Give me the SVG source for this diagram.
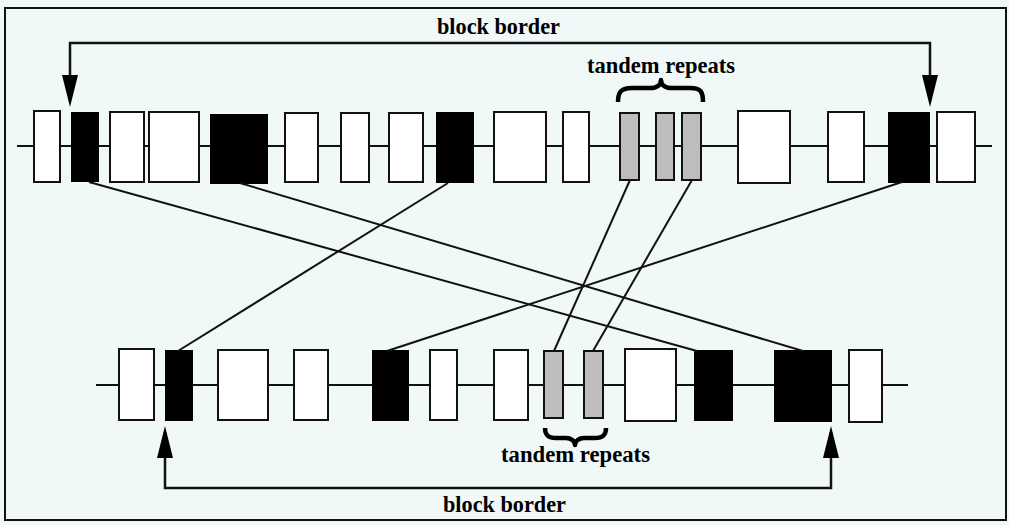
<svg xmlns="http://www.w3.org/2000/svg" width="1009" height="525" viewBox="0 0 1009 525">
  <defs>
    <marker id="head" viewBox="0 0 32 16" refX="26" refY="8" markerWidth="32" markerHeight="16" markerUnits="userSpaceOnUse" orient="auto-start-reverse">
      <path d="M0,0 L32,8 L0,16 Z" fill="#000"/>
    </marker>
    <style>
      .frame { fill: none; stroke: #111; stroke-width: 2; }
      .axis { stroke: #111; stroke-width: 2; fill: none; }
      .ex { fill: #fff; stroke: #111; stroke-width: 2; }
      .blk { fill: #000; stroke: #000; stroke-width: 2; }
      .rep { fill: #bdbdbd; stroke: #111; stroke-width: 2; }
      .link { stroke: #111; stroke-width: 2; fill: none; }
      .border { stroke: #111; stroke-width: 2.5; fill: none; marker-start: url(#head); marker-end: url(#head); }
      .brace { stroke: #000; stroke-width: 4.5; fill: none; stroke-linejoin: round; }
      .lbl { font-family: "Liberation Serif", "DejaVu Serif", serif; font-weight: bold; font-size: 23px; fill: #000; }
    </style>
  </defs>

  <rect x="0" y="0" width="1009" height="525" fill="#f1f8f8"/>
  <rect class="frame" x="5" y="8" width="1001" height="512"/>

  <!-- upper sequence -->
  <g id="seqTop">
    <line class="axis" x1="17" y1="146" x2="992" y2="146"/>
    <rect id="t1" class="ex" x="34" y="111" width="26" height="71"/>
    <rect id="t2" class="blk" x="72" y="113" width="26" height="68"/>
    <rect id="t3" class="ex" x="110" y="112" width="34" height="70"/>
    <rect id="t4" class="ex" x="149" y="112" width="50" height="70"/>
    <rect id="t5" class="blk" x="211" y="115" width="56" height="68"/>
    <rect id="t6" class="ex" x="285" y="113" width="33" height="69"/>
    <rect id="t7" class="ex" x="341" y="113" width="28" height="69"/>
    <rect id="t8" class="ex" x="389" y="113" width="34" height="69"/>
    <rect id="t9" class="blk" x="437" y="113" width="36" height="69"/>
    <rect id="t10" class="ex" x="494" y="112" width="52" height="70"/>
    <rect id="t11" class="ex" x="563" y="112" width="26" height="70"/>
    <rect id="t12" class="rep" x="620" y="113" width="19" height="67"/>
    <rect id="t13" class="rep" x="656" y="113" width="18" height="67"/>
    <rect id="t14" class="rep" x="682" y="113" width="19" height="67"/>
    <rect id="t15" class="ex" x="738" y="111" width="52" height="72"/>
    <rect id="t16" class="ex" x="828" y="112" width="36" height="70"/>
    <rect id="t17" class="blk" x="889" y="113" width="40" height="69"/>
    <rect id="t18" class="ex" x="937" y="112" width="38" height="70"/>
  </g>

  <!-- lower sequence -->
  <g id="seqBottom">
    <line class="axis" x1="96" y1="385" x2="908" y2="385"/>
    <rect id="b1" class="ex" x="119" y="349" width="35" height="71"/>
    <rect id="b2" class="blk" x="166" y="351" width="26" height="69"/>
    <rect id="b3" class="ex" x="218" y="350" width="50" height="70"/>
    <rect id="b4" class="ex" x="294" y="350" width="34" height="70"/>
    <rect id="b5" class="blk" x="373" y="351" width="35" height="69"/>
    <rect id="b6" class="ex" x="430" y="350" width="27" height="70"/>
    <rect id="b7" class="ex" x="494" y="350" width="34" height="70"/>
    <rect id="b8" class="rep" x="544" y="351" width="19" height="67"/>
    <rect id="b9" class="rep" x="584" y="351" width="19" height="67"/>
    <rect id="b10" class="ex" x="625" y="349" width="51" height="72"/>
    <rect id="b11" class="blk" x="695" y="351" width="37" height="69"/>
    <rect id="b12" class="blk" x="775" y="351" width="56" height="70"/>
    <rect id="b13" class="ex" x="849" y="350" width="33" height="72"/>
  </g>

  <!-- correspondences between the two sequences -->
  <g id="links">
    <line class="link" x1="89" y1="182" x2="697" y2="351"/>
    <line class="link" x1="240" y1="183" x2="803" y2="351"/>
    <line class="link" x1="448" y1="183" x2="178" y2="351"/>
    <line class="link" x1="902" y1="182" x2="387" y2="351"/>
    <line class="link" x1="630" y1="180" x2="554" y2="351"/>
    <line class="link" x1="692" y1="180" x2="593" y2="351"/>
  </g>

  <!-- block border arrows -->
  <g id="borderTop">
    <path class="border" d="M70,101 V43 H930 V101"/>
    <text class="lbl" x="437" y="34" textLength="123" lengthAdjust="spacingAndGlyphs">block border</text>
  </g>
  <g id="borderBottom">
    <path class="border" d="M165,432 V488 H831 V432"/>
    <text class="lbl" x="443" y="512" textLength="123" lengthAdjust="spacingAndGlyphs">block border</text>
  </g>

  <!-- tandem repeat braces -->
  <g id="repeatsTop">
    <text class="lbl" x="587" y="73" textLength="148" lengthAdjust="spacingAndGlyphs">tandem repeats</text>
    <path class="brace" d="M618,102 C618,92 621,88 632,88 L650,88 C657,88 661,85 661,80 C661,85 665,88 672,88 L690,88 C701,88 703,92 703,102"/>
  </g>
  <g id="repeatsBottom">
    <path class="brace" d="M545,428 C545,435 548,438 556,438 L566,438 C571,438 575,441 575,445 C575,441 579,438 584,438 L595,438 C603,438 606,435 606,428"/>
    <text class="lbl" x="501" y="462" textLength="149" lengthAdjust="spacingAndGlyphs">tandem repeats</text>
  </g>
</svg>
